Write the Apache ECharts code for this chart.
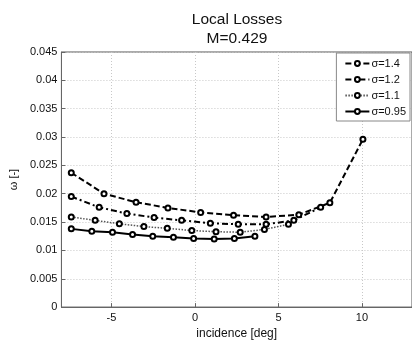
<!DOCTYPE html>
<html>
<head>
<meta charset="utf-8">
<script src="https://cdn.jsdelivr.net/npm/echarts@6/dist/echarts.min.js"></script>
<style>
  html, body { margin: 0; padding: 0; background: #fff; }
  #chart { width: 412px; height: 345px; }
</style>
</head>
<body>
<div id="chart"></div>
<script>
// Incidence angles [deg] and loss coefficients for each pitch-chord ratio
const incS140 = [-7.41, -5.45, -3.53, -1.62, 0.34, 2.31, 4.26, 6.22, 8.08, 10.06];
const lossS140 = [0.0237, 0.0200, 0.0185, 0.0175, 0.0167, 0.0162, 0.0159, 0.0163, 0.0184, 0.0296];

const incS120 = [-7.41, -5.74, -4.08, -2.45, -0.80, 0.92, 2.59, 4.26, 5.92, 7.53];
const lossS120 = [0.0195, 0.0176, 0.0165, 0.0158, 0.0153, 0.0148, 0.0146, 0.0146, 0.0153, 0.0176];

const incS110 = [-7.41, -5.98, -4.53, -3.06, -1.66, -0.19, 1.26, 2.71, 4.16, 5.60];
const lossS110 = [0.0159, 0.0153, 0.0147, 0.0142, 0.0139, 0.0135, 0.0133, 0.0132, 0.0137, 0.0146];

const incS095 = [-7.41, -6.18, -4.94, -3.74, -2.53, -1.29, -0.08, 1.15, 2.36, 3.59];
const lossS095 = [0.0138, 0.0134, 0.0132, 0.0128, 0.0125, 0.0123, 0.0121, 0.0120, 0.0121, 0.0125];

const seriesNames = ['σ=1.4', 'σ=1.2', 'σ=1.1', 'σ=0.95'];

const FONT = '"Liberation Sans", Arial, Helvetica, sans-serif';

function pairs(xs, ys) {
  return xs.map((x, i) => [x, ys[i]]);
}

function curve(name, xs, ys, lineType, width, color) {
  return {
    name: name,
    type: 'line',
    data: pairs(xs, ys),
    symbol: 'circle',
    symbolSize: 5,
    showSymbol: true,
    animation: false,
    lineStyle: { color: color, width: width, type: lineType },
    itemStyle: { color: '#fff', borderColor: '#000', borderWidth: 2 }
  };
}

const chart = echarts.init(document.getElementById('chart'), null, { renderer: 'canvas' });

chart.setOption({
  backgroundColor: '#fff',
  animation: false,
  title: {
    text: 'Local Losses\nM=0.429',
    left: 232,
    textAlign: 'center',
    top: 5,
    textStyle: { fontFamily: FONT, fontSize: 15.5, fontWeight: 'normal', color: '#111', lineHeight: 19 }
  },
  legend: {
    data: seriesNames,
    orient: 'vertical',
    right: 2,
    top: 53,
    backgroundColor: '#fff',
    borderColor: '#888',
    borderWidth: 1,
    borderRadius: 0,
    padding: [5, 4, 4, 8],
    itemGap: 5,
    itemWidth: 24,
    itemHeight: 6,
    textStyle: { fontFamily: FONT, fontSize: 11, color: '#111', padding: [0, 0, 0, -3] }
  },
  grid: {
    left: 59,
    right: -3,
    top: 52,
    bottom: 28,
    show: true,
    borderColor: '#555',
    borderWidth: 1,
    backgroundColor: 'transparent'
  },
  xAxis: {
    type: 'value',
    min: -8,
    max: 13,
    splitNumber: 4,
    name: 'incidence [deg]',
    nameLocation: 'middle',
    nameGap: 19,
    nameTextStyle: { fontFamily: FONT, fontSize: 12, color: '#111' },
    axisLine: { show: true, onZero: false, lineStyle: { color: '#666', width: 1 } },
    axisTick: { show: true, inside: true, length: 4, lineStyle: { color: '#666' } },
    axisLabel: {
      showMinLabel: false,
      showMaxLabel: false,
      fontFamily: FONT,
      fontSize: 11,
      color: '#111',
      margin: 5
    },
    splitLine: { show: true, lineStyle: { color: '#c8c8c8', type: [1, 2], width: 1 } }
  },
  yAxis: {
    type: 'value',
    min: 0,
    max: 0.045,
    interval: 0.005,
    name: 'ω [-]',
    nameLocation: 'middle',
    nameGap: 38,
    nameRotate: 90,
    nameTextStyle: { fontFamily: FONT, fontSize: 11, color: '#111' },
    axisLine: { show: true, onZero: false, lineStyle: { color: '#666', width: 1 } },
    axisTick: { show: true, inside: true, length: 4, lineStyle: { color: '#666' } },
    axisLabel: {
      fontFamily: FONT,
      fontSize: 11,
      color: '#111',
      margin: 4,
      formatter: v => String(parseFloat(v.toFixed(3)))
    },
    splitLine: { show: true, lineStyle: { color: '#c8c8c8', type: [1, 2], width: 1 } }
  },
  series: [
    curve(seriesNames[0], incS140, lossS140, [6, 3], 2, '#000'),
    curve(seriesNames[1], incS120, lossS120, [6, 3, 2, 3], 2, '#000'),
    curve(seriesNames[2], incS110, lossS110, [1.5, 1.5], 1.5, '#555'),
    curve(seriesNames[3], incS095, lossS095, 'solid', 2, '#000')
  ]
});
</script>
</body>
</html>
